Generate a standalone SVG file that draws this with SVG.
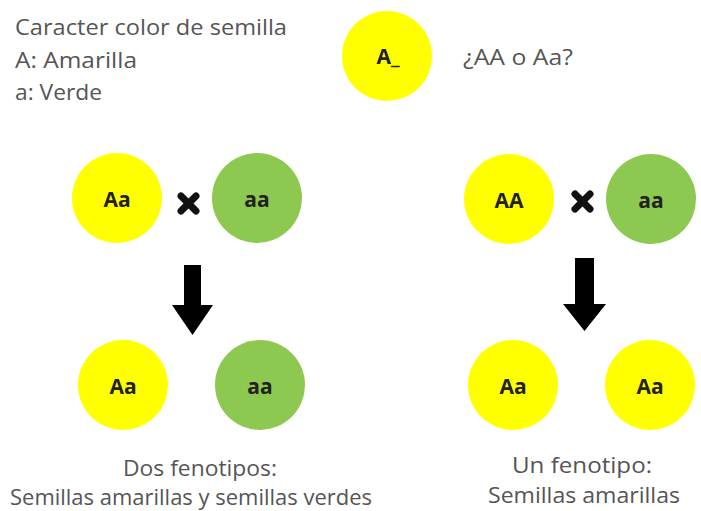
<svg xmlns="http://www.w3.org/2000/svg" width="701" height="511" viewBox="0 0 701 511">
<style>
.txt{font-family:"Open Sans","Noto Sans","Liberation Sans",sans-serif;fill:#555;font-size:21px}
.lbl{font-family:"Open Sans","Noto Sans","Liberation Sans",sans-serif;font-weight:bold;fill:#222;font-size:21px;text-anchor:middle}
.y{fill:#FFFF00}
.g{fill:#8DC850}
.cross{stroke:#111;stroke-width:7;stroke-linecap:round}
.arr{fill:#000}
</style>
<rect width="701" height="511" fill="#fff"/>
<g id="legend">
<text class="txt" x="15" y="35" textLength="272" lengthAdjust="spacingAndGlyphs">Caracter color de semilla</text>
<text class="txt" x="15" y="68" textLength="122" lengthAdjust="spacingAndGlyphs">A: Amarilla</text>
<text class="txt" x="15" y="100" textLength="87" lengthAdjust="spacingAndGlyphs">a: Verde</text>
</g>
<g id="unknown">
<circle class="y" cx="387" cy="56" r="45"/>
<text class="lbl" x="388" y="64">A_</text>
</g>
<g id="question">
<text class="txt" x="463" y="65" textLength="110" lengthAdjust="spacingAndGlyphs">¿AA o Aa?</text>
</g>
<g id="p1-Aa"><circle class="y" cx="117" cy="198" r="45"/><text class="lbl" x="117" y="207">Aa</text></g>
<g id="p1-cross"><line class="cross" x1="181" y1="196" x2="196" y2="211"/><line class="cross" x1="196" y1="196" x2="181" y2="211"/></g>
<g id="p1-aa"><circle class="g" cx="257" cy="198" r="45"/><text class="lbl" x="257" y="207">aa</text></g>
<g id="p2-AA"><circle class="y" cx="509" cy="199" r="45"/><text class="lbl" x="509" y="208">AA</text></g>
<g id="p2-cross"><line class="cross" x1="575" y1="194" x2="590" y2="209"/><line class="cross" x1="590" y1="194" x2="575" y2="209"/></g>
<g id="p2-aa"><circle class="g" cx="651" cy="199" r="45"/><text class="lbl" x="651" y="208">aa</text></g>
<g id="connectors">
<polygon class="arr" points="184,265 201,265 201,305 213,305 192.5,335 172,305 184,305"/>
<polygon class="arr" points="575,258 594,258 594,304 606,304 584.5,331 563,304 575,304"/>
</g>
<g id="o1-Aa"><circle class="y" cx="123" cy="385" r="45"/><text class="lbl" x="123" y="394">Aa</text></g>
<g id="o1-aa"><circle class="g" cx="260" cy="385" r="45"/><text class="lbl" x="260" y="394">aa</text></g>
<g id="o2-Aa1"><circle class="y" cx="513" cy="385" r="45"/><text class="lbl" x="513" y="394">Aa</text></g>
<g id="o2-Aa2"><circle class="y" cx="650" cy="385" r="45"/><text class="lbl" x="650" y="394">Aa</text></g>
<g id="result1">
<text class="txt" x="123" y="476" textLength="154" lengthAdjust="spacingAndGlyphs">Dos fenotipos:</text>
<text class="txt" x="10" y="505" textLength="362" lengthAdjust="spacingAndGlyphs">Semillas amarillas y semillas verdes</text>
</g>
<g id="result2">
<text class="txt" x="512" y="473" textLength="140" lengthAdjust="spacingAndGlyphs">Un fenotipo:</text>
<text class="txt" x="488" y="503" textLength="192" lengthAdjust="spacingAndGlyphs">Semillas amarillas</text>
</g>
</svg>
